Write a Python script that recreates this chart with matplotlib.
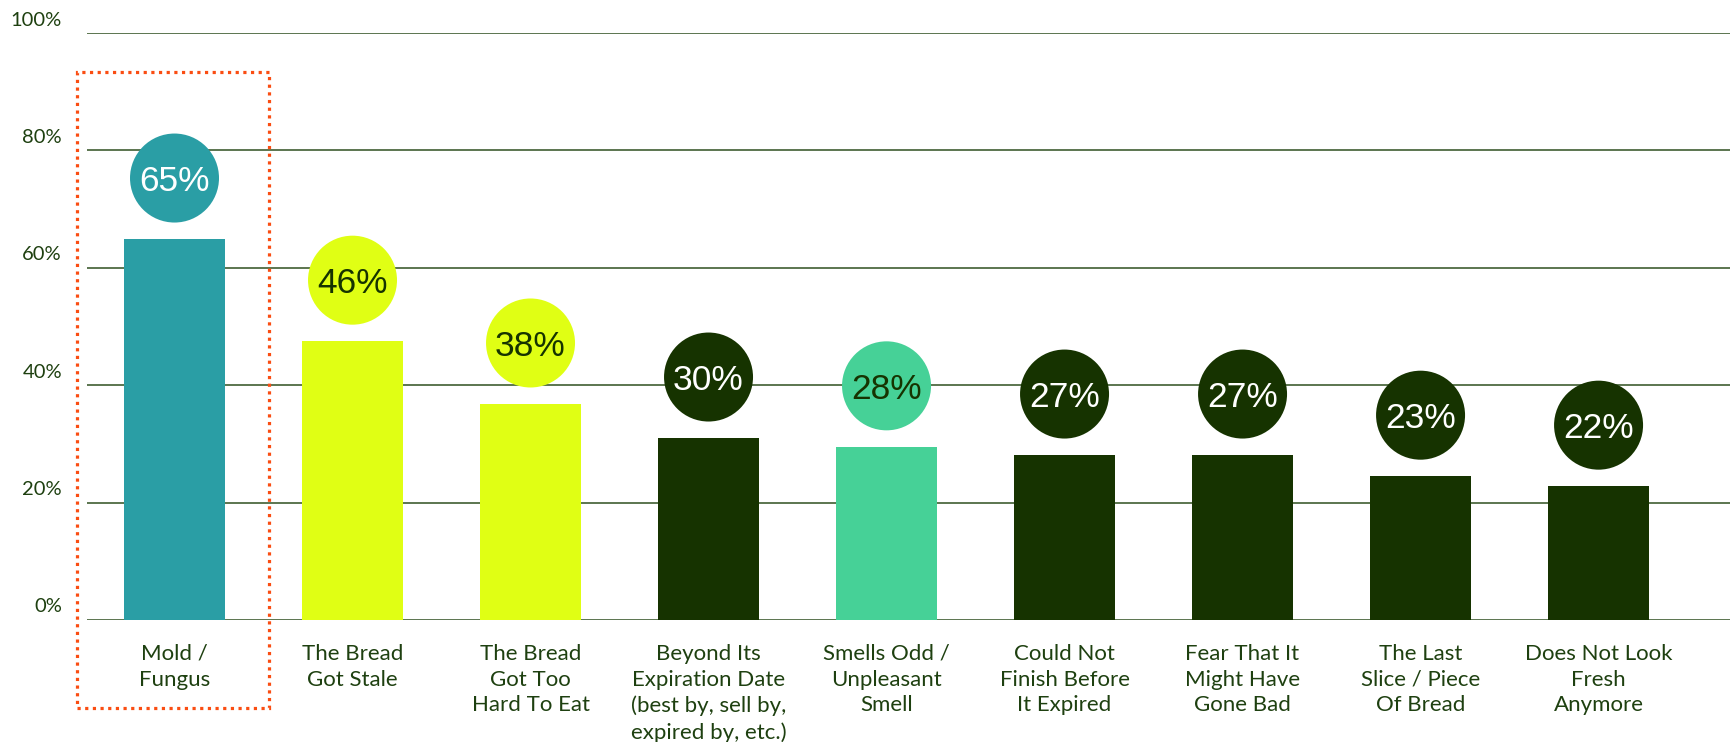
import matplotlib
matplotlib.use("Agg")
import matplotlib.pyplot as plt
from matplotlib.transforms import ScaledTranslation
from matplotlib.patches import Rectangle

categories = [
    "Mold /\nFungus",
    "The Bread\nGot Stale",
    "The Bread\nGot Too\nHard To Eat",
    "Beyond Its\nExpiration Date\n(best by, sell by,\nexpired by, etc.)",
    "Smells Odd /\nUnpleasant\nSmell",
    "Could Not\nFinish Before\nIt Expired",
    "Fear That It\nMight Have\nGone Bad",
    "The Last\nSlice / Piece\nOf Bread",
    "Does Not Look\nFresh\nAnymore",
]
bar_values = [64.9, 47.5, 36.8, 31.0, 29.5, 28.1, 28.1, 24.5, 22.8]
value_labels = ["65%", "46%", "38%", "30%", "28%", "27%", "27%", "23%", "22%"]
bar_colors = ["#2A9EA5", "#E0FF14", "#E0FF14", "#163300", "#46D197",
              "#163300", "#163300", "#163300", "#163300"]
text_colors = ["white", "#163300", "#163300", "white", "#163300",
               "white", "white", "white", "white"]
y_ticks = [0, 20, 40, 60, 80, 100]
y_tick_labels = ["0%", "20%", "40%", "60%", "80%", "100%"]

DPI = 100
fig = plt.figure(figsize=(17.31, 7.42), dpi=DPI)
ax = fig.add_axes([87/1731, 122/742, 1 - 87/1731, (620-33)/742])

label_font = "Lato"
txt_color = "#1E4010"

x = list(range(len(categories)))
ax.bar(x, bar_values, width=0.567, color=bar_colors, zorder=3)

ax.set_xlim(-0.4916, 8.744)
ax.set_ylim(0, 100)
ax.set_yticks(y_ticks)
ax.set_yticklabels([])
ax.tick_params(axis="y", length=0)
ax.yaxis.grid(True, color="#2F4F1F", linewidth=1.1, zorder=0)
ax.set_axisbelow(True)
for s in ax.spines.values():
    s.set_visible(False)

ax.set_xticks(x)
ax.set_xticklabels(categories, fontsize=16, family=label_font, color=txt_color,
                   linespacing=1.37)
ax.tick_params(axis="x", length=0, pad=17)

# y labels above gridlines
ytrans = ax.get_yaxis_transform() + ScaledTranslation(-25/DPI, 13/DPI, fig.dpi_scale_trans)
for v, lab in zip(y_ticks, y_tick_labels):
    ax.text(0, v, lab, transform=ytrans, ha="right", va="center",
            fontsize=14.5, family=label_font, color=txt_color)

# circles with value labels
off = ax.transData + ScaledTranslation(0, 61/DPI, fig.dpi_scale_trans)
diam_pt = 89 * 72 / DPI
ax.scatter(x, bar_values, s=diam_pt**2, c=bar_colors, transform=off,
           zorder=4, clip_on=False, linewidths=0)
for xi, v, lab, tc in zip(x, bar_values, value_labels, text_colors):
    ax.text(xi, v, lab, transform=off, ha="center", va="center_baseline",
            fontsize=25.5, family="Liberation Sans", color=tc, zorder=5)

# dotted highlight box around first category
rect = Rectangle((0 - 0.548, -15.0), 0.548 + 0.531, 93.4 + 15.0, fill=False,
                 edgecolor="#FA4D12", linewidth=2.3, linestyle=(0, (1, 1.4)),
                 clip_on=False, zorder=6)
ax.add_patch(rect)

fig.savefig("out.png", dpi=DPI)
